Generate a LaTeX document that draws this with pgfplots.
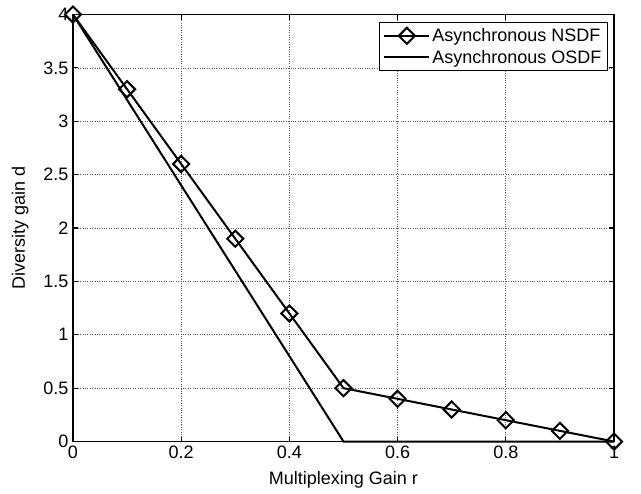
\documentclass[border=0pt]{standalone}
\usepackage{fontspec}
\setmainfont{Liberation Sans}
\usepackage{pgfplots}
\pgfplotsset{compat=1.18}

\begin{document}
\begin{tikzpicture}
\begin{axis}[
    scale only axis,
    width=541bp, height=427bp,
    xmin=0, xmax=1, ymin=0, ymax=4,
    clip=false,
    xtick={0,0.2,0.4,0.6,0.8,1},
    ytick={0,0.5,1,1.5,2,2.5,3,3.5,4},
    xticklabels={0,0.2,0.4,0.6,0.8,1},
    yticklabels={0,0.5,1,1.5,2,2.5,3,3.5,4},
    grid=major,
    major grid style={dotted, black!65, line width=0.7bp},
    tick align=inside,
    major tick length=5bp,
    axis line style={black, line width=1.1bp},
    every tick/.style={black, line width=1.1bp},
    font=\fontsize{18bp}{21bp}\selectfont,
    ticklabel style={font=\fontsize{18bp}{21bp}\selectfont},
    xticklabel style={yshift=-1bp},
    yticklabel style={xshift=-1bp},
    xlabel={Multiplexing Gain r},
    ylabel={Diversity gain d},
    xlabel style={yshift=-6bp},
    ylabel style={yshift=8bp},
    legend cell align=left,
    legend style={at={(1,1)}, anchor=north east, xshift=-6bp, yshift=-7.5bp,
        draw=black, line width=1.1bp, font=\fontsize{18bp}{21bp}\selectfont,
        inner xsep=4bp, inner ysep=4bp, row sep=3bp},
    legend image code/.code={\draw[mark repeat=2, mark phase=2, #1] plot coordinates {(0bp,0bp) (22.5bp,0bp) (45bp,0bp)};},
]
\path (rel axis cs:-0.1349,-0.1225) rectangle (rel axis cs:1.0499,1.034);
\addplot[black, line width=2bp, mark=square, mark size=5.7bp, mark options={solid, fill=white, line width=2bp, rotate=45}] coordinates {
(0,4) (0.1,3.3) (0.2,2.6) (0.3,1.9) (0.4,1.2) (0.5,0.5) (0.6,0.4) (0.7,0.3) (0.8,0.2) (0.9,0.1) (1,0)};
\addlegendentry{Asynchronous NSDF}
\addplot[black, line width=2bp] coordinates {(0,4) (0.5,0) (1,0)};
\addlegendentry{Asynchronous OSDF}
\end{axis}
\end{tikzpicture}
\end{document}
